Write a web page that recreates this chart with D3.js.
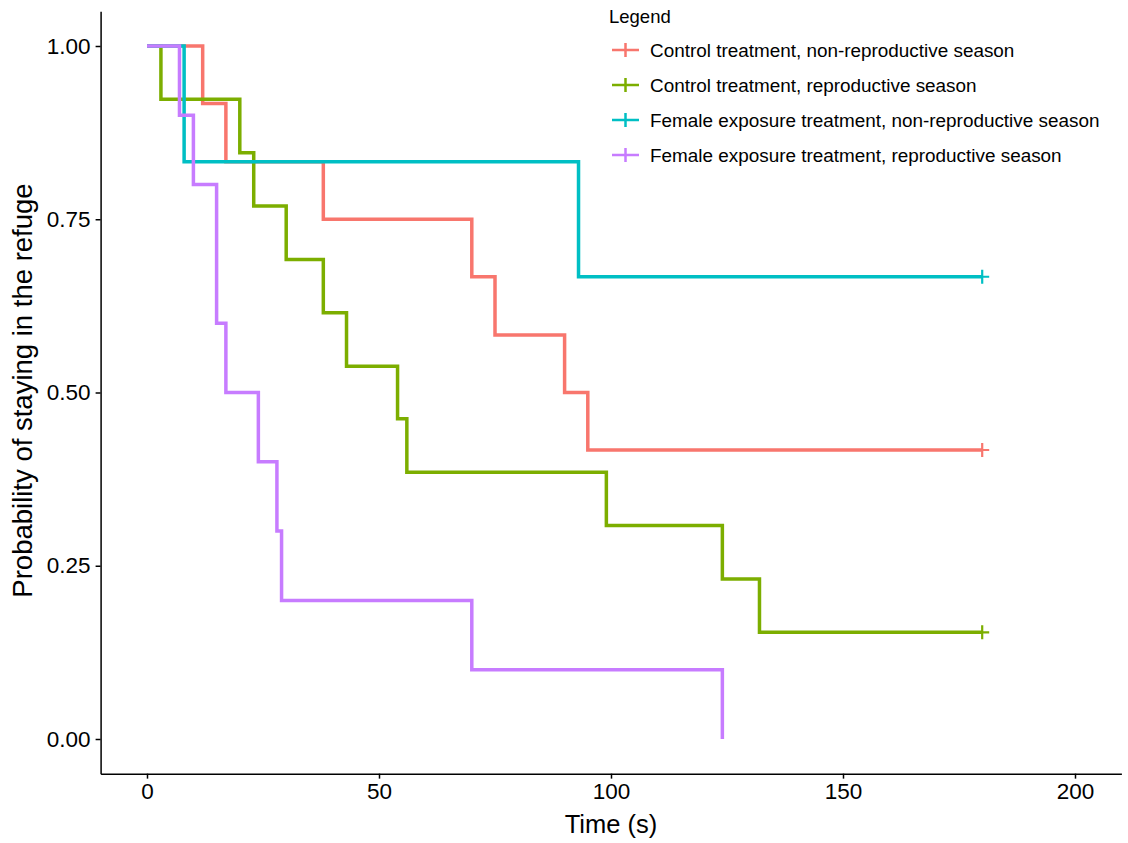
<!DOCTYPE html>
<meta charset="utf-8">
<style>
  body { margin: 0; background: #fff; }
  text { font-family: "Liberation Sans", Arial, sans-serif; fill: #000; }
</style>
<body>
<script src="https://d3js.org/d3.v7.min.js"></script>
<script>
// group labels and colours (ggplot default hues)
var groups = ["Control treatment, non-reproductive season",
              "Control treatment, reproductive season",
              "Female exposure treatment, non-reproductive season",
              "Female exposure treatment, reproductive season"];
var colors = ["#F8766D", "#7CAE00", "#00BFC4", "#C77CFF"];

// step times (s) and survival
var ctrlNonTime = [0, 12, 17, 38, 70, 75, 90, 95, 180];
var ctrlNonSurv = [1, 0.917, 0.833, 0.75, 0.667, 0.583, 0.5, 0.417, 0.417];
var ctrlRepTime = [0, 3, 20, 23, 30, 38, 43, 54, 56, 99, 124, 132, 180];
var ctrlRepSurv = [1, 0.923, 0.846, 0.769, 0.692, 0.615, 0.538, 0.462, 0.385, 0.308, 0.231, 0.154, 0.154];
var femNonTime = [0, 8, 93, 180];
var femNonSurv = [1, 0.833, 0.667, 0.667];
var femRepTime = [0, 7, 10, 15, 17, 24, 28, 29, 70, 124];
var femRepSurv = [1, 0.9, 0.8, 0.6, 0.5, 0.4, 0.3, 0.2, 0.1, 0];
// censored at the end of the trial
var censored = [true, true, true, false];

var xTicks = [0, 50, 100, 150, 200];
var yTicks = [0, 0.25, 0.5, 0.75, 1];

var series = [
  d3.zip(ctrlNonTime, ctrlNonSurv),
  d3.zip(ctrlRepTime, ctrlRepSurv),
  d3.zip(femNonTime, femNonSurv),
  d3.zip(femRepTime, femRepSurv)
];

var W = 1128, H = 843;
var x = d3.scaleLinear().domain([-10, 210]).range([100.6, 1121.4]);
var y = d3.scaleLinear().domain([-0.05, 1.05]).range([773.65, 11.35]);

var svg = d3.select("body").append("svg")
    .attr("width", W)
    .attr("height", H);

var line = d3.line()
    .x(function(d) { return x(d[0]); })
    .y(function(d) { return y(d[1]); })
    .curve(d3.curveStepAfter);

var curves = svg.append("g");
series.forEach(function(s, i) {
  curves.append("path")
      .datum(s)
      .attr("fill", "none")
      .attr("stroke", colors[i])
      .attr("stroke-width", 3.5)
      .attr("d", line);
  if (censored[i]) {
    var last = s[s.length - 1];
    var cx = x(last[0]), cy = y(last[1]);
    curves.append("path")
        .attr("d", "M" + (cx - 7) + "," + cy + "H" + (cx + 7) + "M" + cx + "," + (cy - 7) + "V" + (cy + 7))
        .attr("stroke", colors[i])
        .attr("stroke-width", 2.2);
  }
});

// axes
var xAxis = svg.append("g")
    .attr("transform", "translate(0," + 773.65 + ")")
    .call(d3.axisBottom(x).tickValues(xTicks).tickSize(5).tickPadding(4).tickSizeOuter(0));
var yAxis = svg.append("g")
    .attr("transform", "translate(" + 100.6 + ",0)")
    .call(d3.axisLeft(y).tickValues(yTicks).tickFormat(d3.format(".2f")).tickSize(5).tickPadding(5).tickSizeOuter(0));

[xAxis, yAxis].forEach(function(a) {
  a.select(".domain").attr("stroke", "#000").attr("stroke-width", 1.5);
  a.selectAll(".tick line").attr("stroke", "#000").attr("stroke-width", 1.5);
  a.selectAll(".tick text").style("font-size", "22.5px").attr("fill", "#000")
      .style("font-family", "Liberation Sans, Arial, sans-serif");
});
xAxis.selectAll(".tick text").attr("dy", "0.72em");

svg.append("text")
    .attr("x", x(100))
    .attr("y", 833)
    .attr("text-anchor", "middle")
    .style("font-size", "25.5px")
    .text("Time (s)");

svg.append("text")
    .attr("transform", "translate(32," + (y(0.5) - 2) + ") rotate(-90)")
    .attr("text-anchor", "middle")
    .style("font-size", "27.5px")
    .text("Probability of staying in the refuge");

// legend
var legend = svg.append("g").attr("transform", "translate(608,0)");
legend.append("text")
    .attr("x", 1)
    .attr("y", 23)
    .style("font-size", "18.5px")
    .text("Legend");

var rowY = [50, 85, 120, 155];
groups.forEach(function(g, i) {
  var row = legend.append("g").attr("transform", "translate(0," + rowY[i] + ")");
  row.append("path")
      .attr("d", "M4,0H31M17.5,-7V7")
      .attr("stroke", colors[i])
      .attr("stroke-width", 2.5);
  row.append("text")
      .attr("x", 42)
      .attr("y", 0)
      .attr("dy", "0.35em")
      .style("font-size", "18.9px")
      .text(g);
});
</script>
</body>
